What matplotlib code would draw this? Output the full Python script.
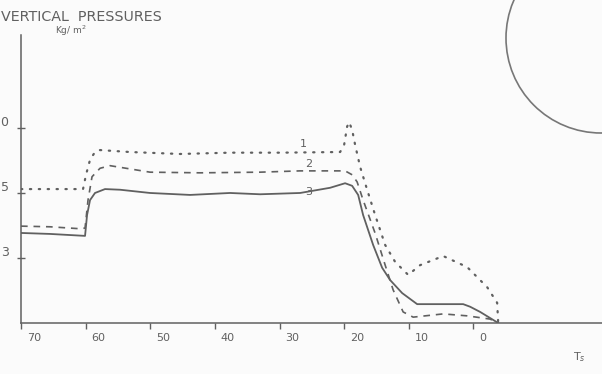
import matplotlib.pyplot as plt
from matplotlib.patches import Circle
from matplotlib.transforms import ScaledTranslation

# time before shot (x axis reversed) and relative vertical pressure
t1 = [70, 60.4, 59.94, 59.32, 58.55, 57.77, 53.13, 45.39, 37.65, 29.91, 20.62, 20.0,
      19.54, 19.23, 18.76, 18.30, 17.52, 16.44, 15.20, 13.65, 12.11, 10.09, 8.24,
      4.67, 0.96, -2.14, -3.68, -3.84]
p1 = [2.06, 2.06, 2.28, 2.51, 2.63, 2.66, 2.63, 2.60, 2.62, 2.62, 2.63, 2.74,
      3.02, 3.09, 2.97, 2.74, 2.40, 2.05, 1.66, 1.20, 0.94, 0.74, 0.89,
      1.03, 0.86, 0.55, 0.31, 0]

t2 = [70, 65.51, 60.87, 60.09, 59.63, 59.01, 57.77, 56.22, 50.03, 42.29, 33.0, 26.81,
      19.85, 18.76, 17.99, 17.06, 15.20, 13.65, 12.42, 10.87, 9.32, 4.67, 0.96,
      -2.60, -3.68]
p2 = [1.49, 1.48, 1.45, 1.46, 1.89, 2.25, 2.38, 2.42, 2.32, 2.31, 2.32, 2.34,
      2.34, 2.28, 2.17, 1.89, 1.38, 0.89, 0.51, 0.17, 0.09, 0.14, 0.11,
      0.06, 0]

t3 = [70, 65.51, 60.09, 59.78, 59.32, 58.55, 57.0, 54.67, 50.03, 43.84, 37.65, 33.0,
      26.81, 22.17, 19.85, 18.76, 17.83, 17.06, 15.51, 14.12, 12.88, 11.02, 8.70,
      5.14, 1.58, 0.50, -1.05, -3.84]
p3 = [1.385, 1.37, 1.34, 1.66, 1.89, 2.0, 2.06, 2.05, 2.0, 1.97, 2.0, 1.98,
      2.0, 2.08, 2.15, 2.11, 1.97, 1.66, 1.2, 0.85, 0.66, 0.46, 0.29,
      0.29, 0.29, 0.25, 0.17, 0]

xticks = [70, 60, 50, 40, 30, 20, 10, 0]
yticks = [1, 2, 3]
ylabels = ["3", "5", "0"]

ink = "#606060"
fig = plt.figure(figsize=(6.02, 3.74), dpi=100, facecolor="#fbfbfb")
ax = fig.add_axes([21 / 602, 51 / 374, 1 - 21 / 602, (323 - 35) / 374])
ax.set_facecolor("#fbfbfb")

ax.plot(t1, p1, color=ink, lw=1.6, linestyle=(0, (0.6, 3.4)), dash_capstyle="round")
ax.plot(t2, p2, color=ink, lw=1.2, linestyle=(0, (4, 3.5)))
ax.plot(t3, p3, color=ink, lw=1.3)

ax.set_xlim(70, -19.9)
ax.set_ylim(0, 4.43)
for s in ["top", "right"]:
    ax.spines[s].set_visible(False)
for s in ["left", "bottom"]:
    ax.spines[s].set_color(ink)
    ax.spines[s].set_linewidth(1.1)

ax.set_xticks(xticks)
ax.set_xticklabels([str(v) for v in xticks], ha="left")
ax.tick_params(axis="x", direction="out", length=4, width=1, colors=ink,
               labelsize=8, pad=3)
for lab in ax.get_xticklabels():
    lab.set_transform(lab.get_transform() + ScaledTranslation(6 / 100, 0, fig.dpi_scale_trans))

ax.set_yticks(yticks)
ax.set_yticklabels(ylabels)
ax.tick_params(axis="y", direction="inout", length=6, width=1, colors=ink,
               labelsize=9, pad=6)
for lab in ax.get_yticklabels():
    lab.set_transform(lab.get_transform() + ScaledTranslation(0, 7 / 100, fig.dpi_scale_trans))

# curve numbers
ax.text(26.3, 2.75, "1", color=ink, fontsize=8, ha="center", va="center")
ax.text(25.5, 2.44, "2", color=ink, fontsize=8, ha="center", va="center")
ax.text(25.5, 2.02, "3", color=ink, fontsize=8, ha="center", va="center")

fig.text(1 / 602, 1 - 17 / 374, "VERTICAL  PRESSURES", color=ink, fontsize=10.3,
         va="center", ha="left")
fig.text(55 / 602, 1 - 31 / 374, "Kg/ m$^2$", color=ink, fontsize=6.5,
         va="center", ha="left")
fig.text(573 / 602, 1 - 357 / 374, "T$_s$", color=ink, fontsize=8,
         va="center", ha="left")

circ = Circle((601, 374 - 38), 95, transform=None, fill=False,
              edgecolor="#777777", lw=1.2)
fig.patches.append(circ)

fig.savefig("out.png", dpi=100, facecolor=fig.get_facecolor())
